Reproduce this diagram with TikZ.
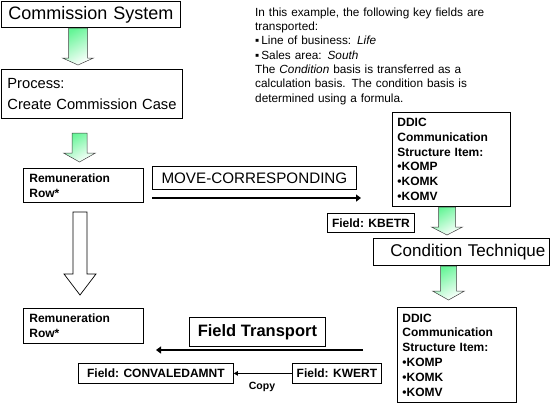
\documentclass[tikz,border=0pt]{standalone}
\usepackage{fontspec}
\setmainfont{Liberation Sans}
\usetikzlibrary{arrows.meta}
\definecolor{agreen}{RGB}{100,245,150}
\newcommand\greenarrow[6]{% cx, ytop, yhead, ytip, halfshaft, halfhead
  \shadedraw[top color=agreen,bottom color=white,shading angle=30,draw=black!75,line width=0.5pt]
    ({#1-#5},#2) -- ({#1+#5},#2) -- ({#1+#5},#3) -- ({#1+#6},#3) -- (#1,#4) -- ({#1-#6},#3) -- ({#1-#5},#3) -- cycle;}
\begin{document}
\begin{tikzpicture}[x=1pt,y=-1pt,
  box/.style={draw=black,line width=0.8pt,anchor=north west,inner ysep=0pt,fill=white},
  big/.style={font=\fontsize{18}{21}\selectfont},
  mid/.style={font=\fontsize{14.7}{21}\selectfont},
  lbl/.style={font=\fontsize{12}{15}\selectfont\bfseries},
  note/.style={font=\fontsize{11.8}{14.3}\selectfont},
  thickarrow/.style={line width=2.4pt,-{Triangle[length=5pt,width=7pt]}},
  thinarrow/.style={line width=0.8pt,-{Triangle[length=4pt,width=4.5pt]}}]
\useasboundingbox (0,0) rectangle (551,413);

% boxes
\node[box,big,align=left,inner xsep=7pt,text width=165pt,minimum height=26pt] (cs) at (1,1) {\mbox{Commission System}};
\node[box,mid,align=left,inner xsep=6pt,text width=169pt,minimum height=49pt] (proc) at (1,69) {Process:\\\mbox{Create Commission Case}};
\node[box,lbl,align=left,inner xsep=6pt,text width=108pt,minimum height=34pt] (rem1) at (23,168) {Remuneration\\Row*};
\node[box,lbl,align=left,inner xsep=6pt,text width=108pt,minimum height=35pt] (rem2) at (23,308) {Remuneration\\Row*};
\node[box,font=\fontsize{15.2}{17}\selectfont,minimum width=204pt,minimum height=23pt] (move) at (152,166) {MOVE-CORRESPONDING};
\node[box,lbl,font=\fontsize{12}{14.8}\selectfont\bfseries,align=left,inner xsep=5pt,text width=108pt,minimum height=94pt] (ddic1) at (392,112) {DDIC\\Communication\\Structure Item:\\•KOMP\\•KOMK\\•KOMV};
\node[box,lbl,minimum width=87pt,minimum height=19pt] (kbetr) at (327,213) {Field: KBETR};
\node[box,font=\fontsize{17}{19}\selectfont,align=right,inner xsep=4pt,text width=168pt,minimum height=27pt] (cond) at (373,238) {\mbox{Condition Technique}};
\node[box,lbl,font=\fontsize{12}{14.8}\selectfont\bfseries,align=left,inner xsep=5pt,text width=109pt,minimum height=95pt] (ddic2) at (397,307) {DDIC\\Communication\\Structure Item:\\•KOMP\\•KOMK\\•KOMV};
\node[box,font=\fontsize{16.5}{19}\selectfont\bfseries,minimum width=136pt,minimum height=29pt] (ftrans) at (189,317) {Field Transport};
\node[box,lbl,minimum width=155pt,minimum height=20pt] (conv) at (78,363) {Field: CONVALEDAMNT};
\node[box,lbl,minimum width=89pt,minimum height=20pt] (kwert) at (292,363) {Field: KWERT};

% note text
\node[note,anchor=north west,inner sep=0pt,align=left,text width=260pt] (note) at (255,7.5)
  {In this example, the following key fields are\\
   transported:\\
   ▪\,Line of business: \textit{Life}\\
   ▪\,Sales area: \textit{South}\\
   The \textit{Condition} basis is transferred as a\\
   calculation basis. The condition basis is\\
   determined using a formula.};

% block arrows
\greenarrow{78}{28}{58}{65}{9.5}{15.5}
\greenarrow{79.5}{133}{153}{162}{7.5}{16}
\greenarrow{447}{207}{227}{235}{8.5}{15.5}
\greenarrow{448.5}{266}{291}{300}{8}{16}
\filldraw[fill=white,draw=black,line width=0.7pt]
  (73,212) -- (87,212) -- (87,274) -- (96,274) -- (80,295) -- (64,274) -- (73,274) -- cycle;

% line arrows
\coordinate (m1) at (152,198);
\coordinate (m2) at (361,198);
\draw[thickarrow] (m1) -- (m2);
\coordinate (f1) at (363,350);
\coordinate (f2) at (156,350);
\draw[thickarrow] (f1) -- (f2);
\draw[thinarrow] (kwert.west) -- (conv.east);
\node[font=\fontsize{10.5}{12}\selectfont\bfseries] (copylbl) at (262,387) {Copy};
\end{tikzpicture}
\end{document}
